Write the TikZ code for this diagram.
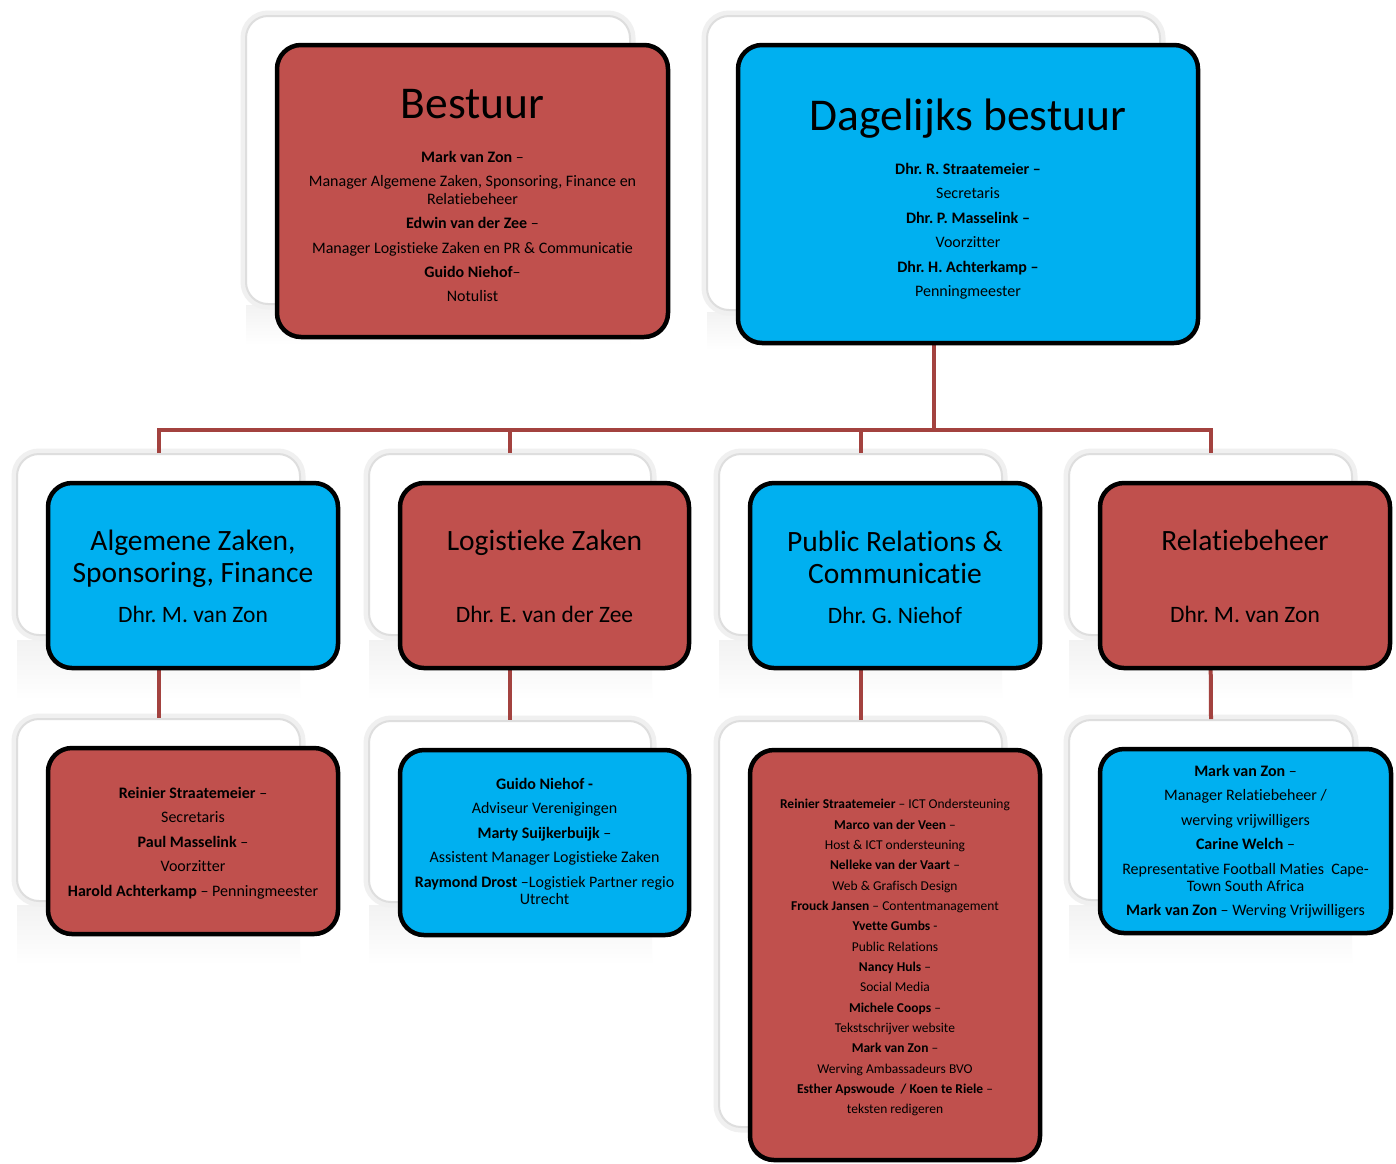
\documentclass[tikz,border=0pt]{standalone}
\usepackage{fontspec}
\setmainfont{Carlito}[Ligatures={NoCommon}]
\frenchspacing
\definecolor{boxred}{HTML}{C0504D}
\definecolor{boxblue}{HTML}{00B0F0}
\definecolor{connred}{HTML}{A3423F}
\begin{document}
\begin{tikzpicture}[x=1pt,y=-1pt,
  frontbox/.style={draw=black, line width=4.5pt, rounded corners=24pt, inner sep=0pt},
  redbox/.style={frontbox, fill=boxred},
  bluebox/.style={frontbox, fill=boxblue},
  backbox/.style={fill=white, draw=black!13, line width=2pt, rounded corners=22pt, inner sep=0pt,
                  preaction={draw=black!6, line width=11pt}},
  conn/.style={draw=connred, line width=4pt},
  refl/.style={top color=black!5, bottom color=white, draw=none},
  txt/.style={inner sep=0pt, align=center, anchor=north, text=black},
  bigtitle/.style={inner sep=0pt, anchor=base, font=\fontsize{45.5}{54}\selectfont},
  midtitle/.style={inner sep=0pt, align=center, font=\fontsize{29.5}{32}\selectfont},
  midname/.style={inner sep=0pt, anchor=base, font=\fontsize{23.5}{28}\selectfont}
]
\useasboundingbox (0,0) rectangle (1396,1163);
\fill[white] (0,0) rectangle (1396,1163);

% reflections
\shade[refl] (246,305) rectangle (630,345);
\shade[refl] (707,312) rectangle (1160,350);
\foreach \xx in {17,369,719,1069}{
  \shade[refl] (\xx,640) rectangle (\xx+283,700);
  \shade[refl] (\xx,905) rectangle (\xx+283,965);
}

% back boxes
\node[backbox, minimum width=384pt, minimum height=288pt] (bestuurback) at (438,160) {};
\node[backbox, minimum width=453pt, minimum height=294pt] (dagback) at (933.5,163) {};
\node[backbox, minimum width=283pt, minimum height=181pt] (a2back) at (158.5,544.5) {};
\node[backbox, minimum width=282pt, minimum height=181pt] (l2back) at (510,544.5) {};
\node[backbox, minimum width=283pt, minimum height=181pt] (p2back) at (860.5,544.5) {};
\node[backbox, minimum width=283pt, minimum height=181pt] (r2back) at (1210.5,544.5) {};
\node[backbox, minimum width=283pt, minimum height=182pt] (a3back) at (158.5,810) {};
\node[backbox, minimum width=282pt, minimum height=181pt] (l3back) at (510,811.5) {};
\node[backbox, minimum width=283pt, minimum height=406pt] (p3back) at (860.5,924) {};
\node[backbox, minimum width=284pt, minimum height=180pt] (r3back) at (1211,810) {};

% connectors
\coordinate (bus) at (937,430);
\draw[conn] (dagback.south) -- (dagback.south |- bus);
\draw[conn] (a2back.north) |- (bus) -| (r2back.north);
\draw[conn] (l2back.north) -- (l2back.north |- bus);
\draw[conn] (p2back.north) -- (p2back.north |- bus);
\draw[conn] (a2back.south) -- (a3back.north);
\draw[conn] (l2back.south) -- (l3back.north);
\draw[conn] (p2back.south) -- (p3back.north);
\draw[conn] (r2back.south) -- (r3back.north);

% front boxes
\node[redbox, minimum width=391pt, minimum height=292pt] (bestuur) at (472.5,191) {};
\node[bluebox, minimum width=460pt, minimum height=298pt] (dag) at (968,194) {};
\node[bluebox, minimum width=290pt, minimum height=185pt] (a2) at (193,575.5) {};
\node[redbox, minimum width=289pt, minimum height=185pt] (l2) at (544.5,575.5) {};
\node[bluebox, minimum width=290pt, minimum height=185pt] (p2) at (895,575.5) {};
\node[redbox, minimum width=290pt, minimum height=185pt] (r2) at (1245,575.5) {};
\node[redbox, minimum width=290pt, minimum height=186pt] (a3) at (193,841) {};
\node[bluebox, minimum width=289pt, minimum height=185pt] (l3) at (544.5,842.5) {};
\node[redbox, minimum width=290pt, minimum height=410pt] (p3) at (895,955) {};
\node[bluebox, minimum width=291pt, minimum height=184pt] (r3) at (1245.5,841) {};

% top texts
\node[bigtitle] (bestuurT) at (472.5,118) {Bestuur};
\node[bigtitle] (dagT) at (968,130) {Dagelijks bestuur};
\node[txt, font=\fontsize{16}{18}\selectfont] (bestuurB) at (472.5,151)
 {\textbf{Mark van Zon} –\\[6.2pt]
  Manager Algemene Zaken, Sponsoring, Finance en\\
  Relatiebeheer\\[6.2pt]
  \textbf{Edwin van der Zee} –\\[6.2pt]
  Manager Logistieke Zaken en PR \& Communicatie\\[6.2pt]
  \textbf{Guido Niehof}–\\[6.2pt]
  Notulist};
\node[txt, font=\fontsize{16}{24.4}\selectfont] (dagB) at (968,163)
 {\textbf{Dhr. R. Straatemeier –}\\
  Secretaris\\
  \textbf{Dhr. P. Masselink –}\\
  Voorzitter\\
  \textbf{Dhr. H. Achterkamp –}\\
  Penningmeester};

% level 2 texts
\node[midtitle, anchor=north] (a2T) at (193,530) {Algemene Zaken,\\ Sponsoring, Finance};
\node[midname] (a2N) at (193,622.6) {Dhr. M. van Zon};
\node[midtitle, anchor=base] (l2T) at (544.5,550.4) {Logistieke Zaken};
\node[midname] (l2N) at (544.5,622.6) {Dhr. E. van der Zee};
\node[midtitle, anchor=north] (p2T) at (895,531) {Public Relations \&\\ Communicatie};
\node[midname] (p2N) at (895,623.6) {Dhr. G. Niehof};
\node[midtitle, anchor=base] (r2T) at (1245,550.4) {Relatiebeheer};
\node[midname] (r2N) at (1245,622.6) {Dhr. M. van Zon};

% level 3 texts
\node[txt, font=\fontsize{16}{24.5}\selectfont] (a3B) at (193,787)
 {\textbf{Reinier Straatemeier} –\\
  Secretaris\\
  \textbf{Paul Masselink} –\\
  Voorzitter\\
  \textbf{Harold Achterkamp} – Penningmeester};
\node[txt, font=\fontsize{16}{17.5}\selectfont] (l3B) at (544.5,778)
 {\textbf{Guido Niehof -}\\[7pt]
  Adviseur Verenigingen\\[7pt]
  \textbf{Marty Suijkerbuijk} –\\[7pt]
  Assistent Manager Logistieke Zaken\\[7pt]
  \textbf{Raymond Drost} –Logistiek Partner regio\\
  Utrecht};
\node[txt, font=\fontsize{13.5}{20.35}\selectfont] (p3B) at (895,799)
 {\textbf{Reinier Straatemeier} – ICT Ondersteuning\\
  \textbf{Marco van der Veen} –\\
  Host \& ICT ondersteuning\\
  \textbf{Nelleke van der Vaart} –\\
  Web \& Grafisch Design\\
  \textbf{Frouck Jansen} – Contentmanagement\\
  \textbf{Yvette Gumbs} -\\
  Public Relations\\
  \textbf{Nancy Huls} –\\
  Social Media\\
  \textbf{Michele Coops} –\\
  Tekstschrijver website\\
  \textbf{Mark van Zon} –\\
  Werving Ambassadeurs BVO\\
  \textbf{Esther Apswoude\ \ / Koen te Riele} –\\
  teksten redigeren};
\node[txt, font=\fontsize{16}{17}\selectfont] (r3B) at (1245.5,765)
 {\textbf{Mark van Zon} –\\[7.5pt]
  Manager Relatiebeheer /\\[7.5pt]
  werving vrijwilligers\\[7.5pt]
  \textbf{Carine Welch} –\\[7.5pt]
  Representative Football Maties\ \ Cape-\\
  Town South Africa\\[7.5pt]
  \textbf{Mark van Zon} – Werving Vrijwilligers};
\end{tikzpicture}
\end{document}
